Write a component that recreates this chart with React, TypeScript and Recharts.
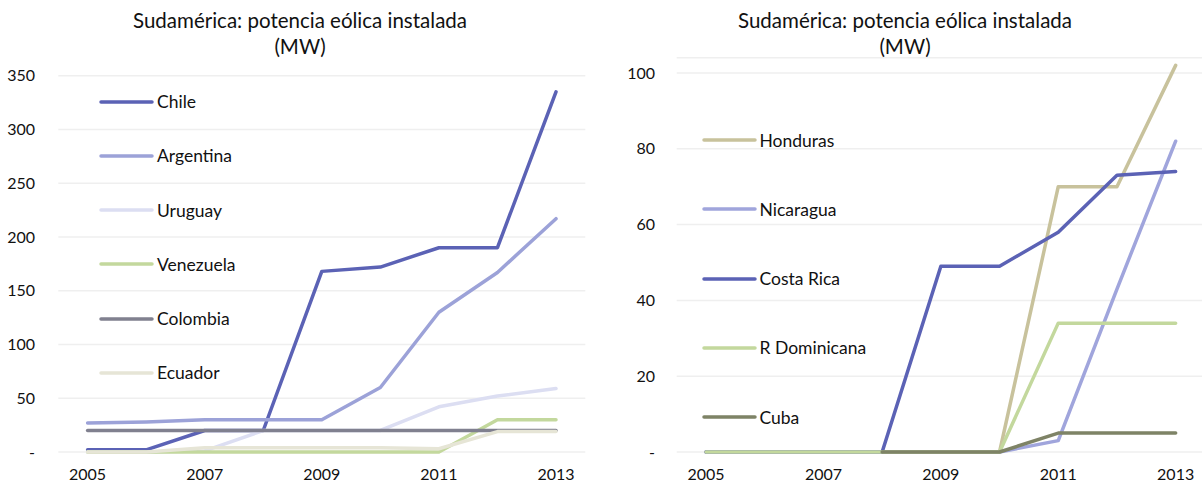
import React from "react";
import { LineChart, Line, XAxis, YAxis, CartesianGrid, Legend } from "recharts";

const years = ["2005", "2006", "2007", "2008", "2009", "2010", "2011", "2012", "2013"];

// Sudamérica (MW)
const chile = [2, 2, 20, 20, 168, 172, 190, 190, 335];
const argentina = [27, 28, 30, 30, 30, 60, 130, 167, 217];
const uruguay = [0, 0, 1, 20, 20, 20, 42, 52, 59];
const venezuela = [0, 0, 0, 0, 0, 0, 0, 30, 30];
const colombia = [20, 20, 20, 20, 20, 20, 20, 20, 20];
const ecuador = [0, 0, 4, 4, 4, 4, 3, 19, 19];

// Centroamérica y Caribe (MW)
const honduras = [0, 0, 0, 0, 0, 0, 70, 70, 102];
const nicaragua = [0, 0, 0, 0, 0, 0, 3, 43, 82];
const costaRica = [0, 0, 0, 0, 49, 49, 58, 73, 74];
const rDominicana = [0, 0, 0, 0, 0, 0, 34, 34, 34];
const cuba = [null, null, null, 0, 0, 0, 5, 5, 5];

const yearTicks = ["2005", "2007", "2009", "2011", "2013"];
const leftTicks = [0, 50, 100, 150, 200, 250, 300, 350];
const rightTicks = [0, 20, 40, 60, 80, 100];

const leftSeries = [
  { key: "Chile", values: chile, color: "#5B62B5" },
  { key: "Argentina", values: argentina, color: "#9CA2D8" },
  { key: "Uruguay", values: uruguay, color: "#DCDEF2" },
  { key: "Venezuela", values: venezuela, color: "#C3D89D" },
  { key: "Colombia", values: colombia, color: "#80808F" },
  { key: "Ecuador", values: ecuador, color: "#E6E5D6" },
];

const rightSeries = [
  { key: "Honduras", values: honduras, color: "#C8C29C" },
  { key: "Nicaragua", values: nicaragua, color: "#A0A5DC" },
  { key: "Costa Rica", values: costaRica, color: "#5B62B5" },
  { key: "R Dominicana", values: rDominicana, color: "#C3D89D" },
  { key: "Cuba", values: cuba, color: "#7E8366" },
];

const FONT = "Lato, 'Open Sans', sans-serif";

type Series = { key: string; values: (number | null)[]; color: string };

const buildRows = (series: Series[]) =>
  years.map((year, i) => {
    const row: Record<string, any> = { year };
    series.forEach((s) => (row[s.key] = s.values[i]));
    return row;
  });

const fmt = (v: number) => (v === 0 ? "-" : String(v));

// legend sits inside the plot, one row per series, in series order
const makeLegend = (series: Series[], top0: number, step: number, lineLeft: number) => (props: any) => {
  const payload = [...(props.payload || [])].sort(
    (a: any, b: any) =>
      series.findIndex((s) => s.key === a.value) - series.findIndex((s) => s.key === b.value)
  );
  return (
    <div style={{ position: "relative" }}>
      {payload.map((p: any, i: number) => (
        <div
          key={p.value}
          style={{
            position: "absolute",
            left: lineLeft,
            top: top0 + i * step - 12,
            height: 24,
            display: "flex",
            alignItems: "center",
            whiteSpace: "nowrap",
            fontFamily: FONT,
            fontSize: 17.5,
            color: "#111",
          }}
        >
          <svg width={56} height={8} style={{ display: "block" }}>
            <line x1={2} y1={4} x2={53} y2={4} stroke={p.color} strokeWidth={3.5} strokeLinecap="round" />
          </svg>
          <span style={{ marginLeft: 2 }}>{p.value}</span>
        </div>
      ))}
    </div>
  );
};

const Title = ({ left, width }: { left: number; width: number }) => (
  <div
    style={{
      position: "absolute",
      left,
      top: 7,
      width,
      textAlign: "center",
      fontFamily: FONT,
      fontSize: 20.5,
      lineHeight: "26px",
      color: "#111",
    }}
  >
    Sudamérica: potencia eólica instalada
    <br />
    (MW)
  </div>
);

export default function App() {
  const leftData = buildRows(leftSeries);
  const rightData = buildRows(rightSeries);
  const tickStyle = { fontFamily: FONT, fontSize: 16, fill: "#111" };

  return (
    <div
      style={{
        position: "absolute",
        left: 0,
        top: 0,
        width: 1202,
        height: 485,
        overflow: "hidden",
        background: "#fff",
      }}
    >
      <Title left={0} width={600} />
      <Title left={605} width={600} />

      <div style={{ position: "absolute", left: 0, top: 0 }}>
        <LineChart width={600} height={485} data={leftData} margin={{ top: 75.7, right: 14.7, bottom: 8, left: 0 }}>
          <CartesianGrid vertical={false} stroke="#EFEFEF" strokeWidth={1.5} />
          <XAxis
            dataKey="year"
            ticks={yearTicks}
            interval={0}
            axisLine={false}
            tickLine={false}
            tickSize={0}
            tickMargin={16.5}
            height={25}
            padding={{ left: 29.3, right: 29.3 }}
            tick={tickStyle}
          />
          <YAxis
            domain={[0, 350]}
            ticks={leftTicks}
            width={58.3}
            axisLine={false}
            tickLine={false}
            tickSize={0}
            tickMargin={23.3}
            tickFormatter={fmt}
            tick={tickStyle}
          />
          <Legend
            layout="vertical"
            align="center"
            verticalAlign="middle"
            wrapperStyle={{ left: 0, top: 0, width: 0, height: 0 }}
            content={makeLegend(leftSeries, 101.7, 54.25, 99)}
          />
          {leftSeries.map((s) => (
            <Line
              key={s.key}
              type="linear"
              dataKey={s.key}
              stroke={s.color}
              strokeWidth={3.5}
              strokeLinecap="round"
              strokeLinejoin="round"
              dot={false}
              activeDot={false}
              isAnimationActive={false}
            />
          ))}
        </LineChart>
      </div>

      <div style={{ position: "absolute", left: 600, top: 0 }}>
        <LineChart width={606} height={485} data={rightData} margin={{ top: 57.8, right: 1, bottom: 8, left: 0 }}>
          <CartesianGrid vertical={false} stroke="#EFEFEF" strokeWidth={1.5} />
          <XAxis
            dataKey="year"
            ticks={yearTicks}
            interval={0}
            axisLine={false}
            tickLine={false}
            tickSize={0}
            tickMargin={16.5}
            height={25}
            padding={{ left: 29.35, right: 29.35 }}
            tick={tickStyle}
          />
          <YAxis
            domain={[0, 104]}
            ticks={rightTicks}
            width={76.7}
            axisLine={false}
            tickLine={false}
            tickSize={0}
            tickMargin={21.7}
            tickFormatter={fmt}
            tick={tickStyle}
          />
          <Legend
            layout="vertical"
            align="center"
            verticalAlign="middle"
            wrapperStyle={{ left: 0, top: 0, width: 0, height: 0 }}
            content={makeLegend(rightSeries, 140, 69.3, 101.5)}
          />
          {rightSeries.map((s) => (
            <Line
              key={s.key}
              type="linear"
              dataKey={s.key}
              stroke={s.color}
              strokeWidth={3.5}
              strokeLinecap="round"
              strokeLinejoin="round"
              dot={false}
              activeDot={false}
              isAnimationActive={false}
            />
          ))}
        </LineChart>
      </div>
    </div>
  );
}
